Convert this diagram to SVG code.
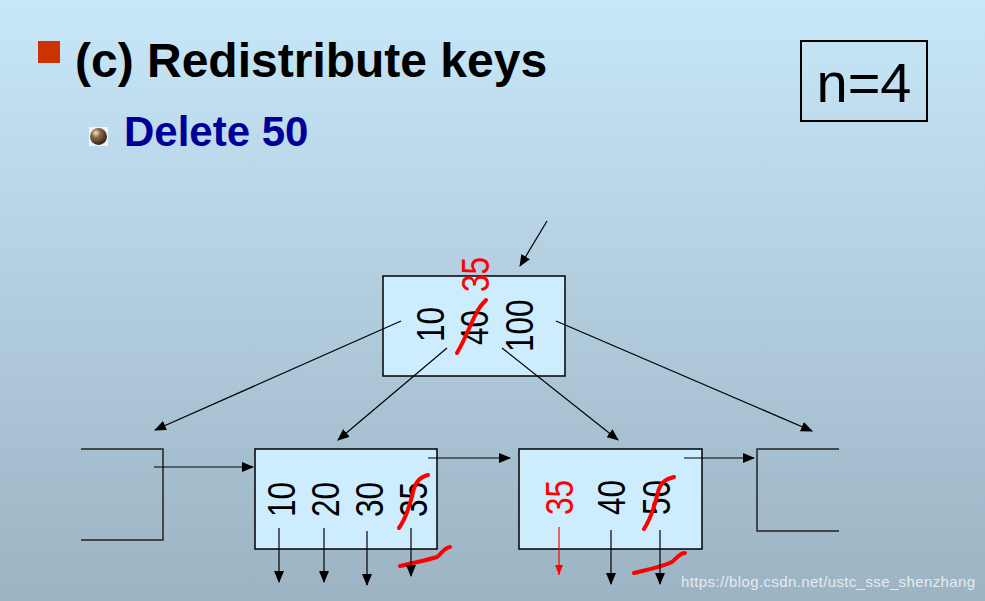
<svg xmlns="http://www.w3.org/2000/svg" width="985" height="601" viewBox="0 0 985 601">
<defs>
<linearGradient id="bg" x1="0" y1="0" x2="0" y2="1">
<stop offset="0" stop-color="#c7e7f9"/>
<stop offset="1" stop-color="#9cb3c3"/>
</linearGradient>
<radialGradient id="ball" cx="0.35" cy="0.3" r="0.75">
<stop offset="0" stop-color="#f2e6cf"/>
<stop offset="0.35" stop-color="#8a6c45"/>
<stop offset="1" stop-color="#2a1d10"/>
</radialGradient>
<marker id="ah" markerWidth="12" markerHeight="10" refX="11" refY="5" orient="auto" markerUnits="userSpaceOnUse">
<path d="M0,0 L12,5 L0,10 Z" fill="#000"/>
</marker>
<marker id="ahr" markerWidth="10" markerHeight="8" refX="10" refY="4" orient="auto" markerUnits="userSpaceOnUse">
<path d="M0,0 L10,4 L0,8 Z" fill="#f00"/>
</marker>
<style>
.node{fill:#cdedfe;stroke:#000;stroke-width:1.5}
.part{fill:none;stroke:#222;stroke-width:1.5}
.key{font-family:"Liberation Sans",Arial,sans-serif;font-size:38px;fill:#000}
.red{fill:#f00}
.con{stroke:#000;stroke-width:1.2;fill:none;marker-end:url(#ah)}
.strike{stroke:#f00;stroke-width:4;fill:none;stroke-linecap:round}
</style>
</defs>
<rect x="0" y="0" width="985" height="601" fill="url(#bg)"/>

<g id="title">
<rect x="38" y="41" width="22" height="22" fill="#cc3300"/>
<text x="75" y="77" font-family="'Liberation Sans',Arial,sans-serif" font-weight="bold" font-size="48" fill="#000">(c) Redistribute keys</text>
</g>
<g id="subtitle">
<rect x="89" y="127" width="19" height="19" fill="#f4f4f4"/>
<circle cx="98.5" cy="136.5" r="8.5" fill="url(#ball)"/>
<text x="124" y="146" font-family="'Liberation Sans',Arial,sans-serif" font-weight="bold" font-size="42" fill="#000099">Delete 50</text>
</g>
<g id="nbox">
<rect x="801" y="41" width="126" height="80" fill="none" stroke="#000" stroke-width="2"/>
<text x="864" y="102" text-anchor="middle" font-family="'Liberation Sans',Arial,sans-serif" font-size="56" fill="#000">n=4</text>
</g>

<g id="root">
<rect class="node" x="383" y="276" width="182" height="100"/>
<text class="key" transform="translate(444,342) rotate(-90) scale(0.83,1)">10</text>
<text class="key" transform="translate(488,345) rotate(-90) scale(0.83,1)">40</text>
<text class="key" transform="translate(533,352) rotate(-90) scale(0.83,1)">100</text>
<text class="key red" transform="translate(489,292) rotate(-90) scale(0.83,1)">35</text>
<path class="strike" d="M457,353 C466,338 471,322 478,310 C481,305 484,302 486,300"/>
</g>

<g id="leftPart">
<path class="part" d="M81,449 H163 V540 H81"/>
</g>

<g id="midLeft">
<rect class="node" x="255" y="449" width="182" height="100"/>
<text class="key" transform="translate(295,517) rotate(-90) scale(0.83,1)">10</text>
<text class="key" transform="translate(339,517) rotate(-90) scale(0.83,1)">20</text>
<text class="key" transform="translate(383,517) rotate(-90) scale(0.83,1)">30</text>
<text class="key" transform="translate(427,517) rotate(-90) scale(0.83,1)">35</text>
<path class="strike" d="M399,528 C406,518 410,505 413,492 C416,480 421,477 428,475"/>
<path class="strike" d="M400,566 C412,563 428,560 437,557 C442,553 444,548 450,547"/>
</g>

<g id="midRight">
<rect class="node" x="519" y="449" width="183" height="100"/>
<text class="key red" transform="translate(573,515) rotate(-90) scale(0.83,1)">35</text>
<text class="key" transform="translate(625,515) rotate(-90) scale(0.83,1)">40</text>
<text class="key" transform="translate(670,515) rotate(-90) scale(0.83,1)">50</text>
<path class="strike" d="M644,529 C651,518 655,505 658,492 C661,481 667,479 674,477"/>
<path class="strike" d="M634,573 C646,570 662,567 672,562 C678,557 680,553 685,553"/>
</g>

<g id="rightPart">
<path class="part" d="M839,449 H757 V531 H839"/>
</g>

<g id="connectors">
<line class="con" x1="547" y1="221" x2="520" y2="266"/>
<line class="con" x1="401" y1="321" x2="155" y2="430"/>
<line class="con" x1="447" y1="348" x2="338" y2="440"/>
<line class="con" x1="502" y1="348" x2="618" y2="440"/>
<line class="con" x1="556" y1="321" x2="812" y2="431"/>
<line class="con" x1="154" y1="467" x2="253" y2="467"/>
<line class="con" x1="428" y1="458" x2="510" y2="458"/>
<line class="con" x1="684" y1="458" x2="754" y2="458"/>
<line class="con" x1="279" y1="528" x2="279" y2="582"/>
<line class="con" x1="324" y1="528" x2="324" y2="582"/>
<line class="con" x1="367" y1="531" x2="367" y2="585"/>
<line class="con" x1="411" y1="528" x2="411" y2="576"/>
<line x1="559" y1="527" x2="559" y2="575" stroke="#f00" stroke-width="1.2" marker-end="url(#ahr)"/>
<line class="con" x1="611" y1="530" x2="611" y2="584"/>
<line class="con" x1="660" y1="530" x2="660" y2="584"/>
</g>

<text x="681" y="587" font-family="'Liberation Sans',Arial,sans-serif" font-size="15" fill="#ffffff" fill-opacity="0.75" textLength="294">https://blog.csdn.net/ustc_sse_shenzhang</text>
</svg>
